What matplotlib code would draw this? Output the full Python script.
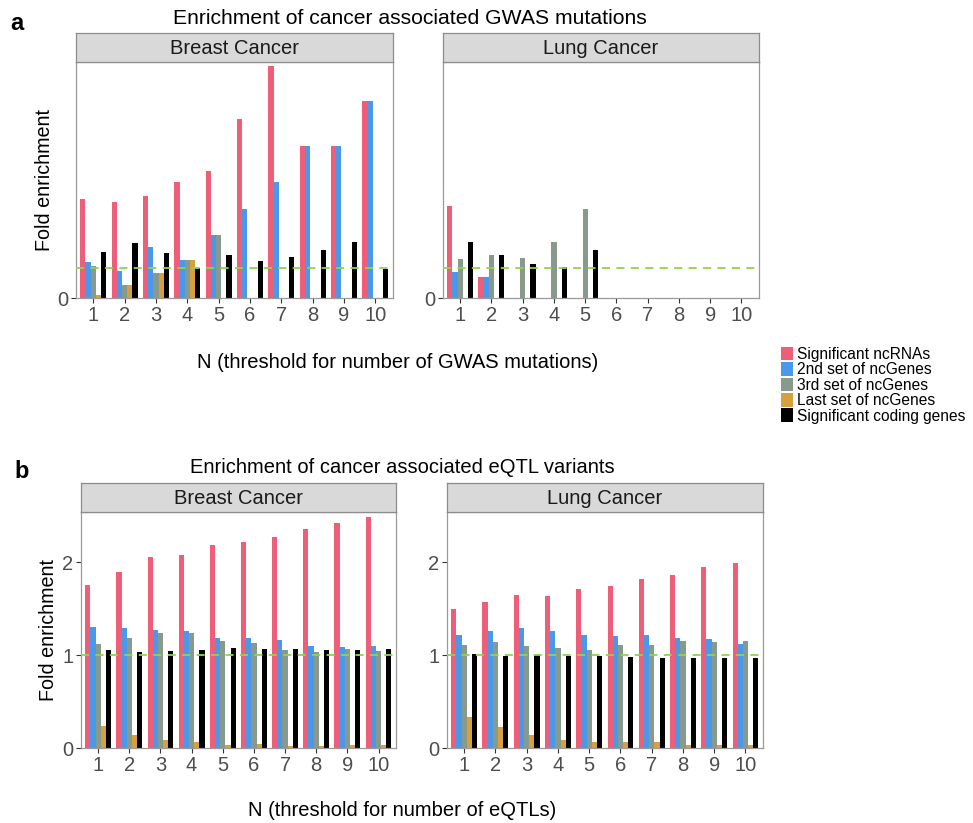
import numpy as np
import matplotlib
matplotlib.use('Agg')
import matplotlib.pyplot as plt
from matplotlib.patches import Patch

plt.rcParams['font.family'] = ['Liberation Sans', 'DejaVu Sans']

W, H = 973, 823

thresholds = np.arange(1, 11)
series = ['Significant ncRNAs', '2nd set of ncGenes', '3rd set of ncGenes',
          'Last set of ncGenes', 'Significant coding genes']
colors = ['#EF5E78', '#4A98EA', '#879A8B', '#D6A03E', '#000000']

# a: GWAS mutations
gwas_breast_sig = [3.30, 3.21, 3.41, 3.87, 4.23, 5.98, 7.74, 5.06, 5.06, 6.58]
gwas_breast_2nd = [1.20, 0.91, 1.70, 1.28, 2.11, 2.98, 3.87, 5.06, 5.06, 6.58]
gwas_breast_3rd = [1.08, 0.44, 0.83, 1.28, 2.11, 0, 0, 0, 0, 0]
gwas_breast_last = [0.09, 0.44, 0.83, 1.28, 0, 0, 0, 0, 0, 0]
gwas_breast_coding = [1.52, 1.82, 1.50, 1.00, 1.44, 1.24, 1.38, 1.59, 1.88, 0.98]

gwas_lung_sig = [3.06, 0.70, 0, 0, 0, 0, 0, 0, 0, 0]
gwas_lung_2nd = [0.87, 0.70, 0, 0, 0, 0, 0, 0, 0, 0]
gwas_lung_3rd = [1.30, 1.42, 1.33, 1.88, 2.98, 0, 0, 0, 0, 0]
gwas_lung_last = [0, 0, 0, 0, 0, 0, 0, 0, 0, 0]
gwas_lung_coding = [1.86, 1.43, 1.13, 1.03, 1.59, 0, 0, 0, 0, 0]

# b: eQTL variants
eqtl_breast_sig = [1.75, 1.89, 2.06, 2.08, 2.18, 2.22, 2.27, 2.36, 2.42, 2.49]
eqtl_breast_2nd = [1.30, 1.29, 1.27, 1.26, 1.18, 1.18, 1.16, 1.10, 1.09, 1.10]
eqtl_breast_3rd = [1.12, 1.18, 1.24, 1.24, 1.15, 1.13, 1.05, 1.03, 1.07, 1.04]
eqtl_breast_last = [0.24, 0.14, 0.09, 0.06, 0.03, 0.04, 0.02, 0.02, 0.03, 0.03]
eqtl_breast_coding = [1.06, 1.03, 1.04, 1.06, 1.08, 1.07, 1.07, 1.06, 1.05, 1.07]

eqtl_lung_sig = [1.50, 1.57, 1.65, 1.64, 1.71, 1.74, 1.82, 1.86, 1.95, 1.99]
eqtl_lung_2nd = [1.22, 1.26, 1.29, 1.26, 1.22, 1.21, 1.22, 1.18, 1.17, 1.12]
eqtl_lung_3rd = [1.11, 1.14, 1.10, 1.08, 1.06, 1.11, 1.11, 1.15, 1.14, 1.15]
eqtl_lung_last = [0.33, 0.23, 0.14, 0.09, 0.06, 0.06, 0.06, 0.03, 0.03, 0.03]
eqtl_lung_coding = [1.01, 0.99, 1.00, 0.99, 0.99, 0.98, 0.97, 0.97, 0.97, 0.97]

gwas_breast = [gwas_breast_sig, gwas_breast_2nd, gwas_breast_3rd, gwas_breast_last, gwas_breast_coding]
gwas_lung = [gwas_lung_sig, gwas_lung_2nd, gwas_lung_3rd, gwas_lung_last, gwas_lung_coding]
eqtl_breast = [eqtl_breast_sig, eqtl_breast_2nd, eqtl_breast_3rd, eqtl_breast_last, eqtl_breast_coding]
eqtl_lung = [eqtl_lung_sig, eqtl_lung_2nd, eqtl_lung_3rd, eqtl_lung_last, eqtl_lung_coding]


def px_axes(fig, x0, y0, x1, y1):
    # pixel box (top-left origin) -> figure axes
    return fig.add_axes([x0 / W, 1 - y1 / H, (x1 - x0) / W, (y1 - y0) / H])


def draw_panel(fig, box, strip_top, title, data, ymax, yticks):
    x0, y0, x1, y1 = box
    ax = px_axes(fig, x0, y0, x1, y1)
    width = 0.166
    for i, vals in enumerate(data):
        offs = (i - 2) * width
        ax.bar(thresholds + offs, vals, width=width, color=colors[i], edgecolor='none', zorder=2)
    ax.axhline(1, color='#8DD64A', lw=1.3, dashes=(4.5, 3.5), zorder=3)
    ax.set_xlim(0.45, 10.56)
    ax.set_ylim(0, ymax)
    ax.set_xticks(thresholds)
    ax.set_yticks(yticks)
    ax.tick_params(axis='both', colors='#333333', labelcolor='#4D4D4D', labelsize=14.5,
                   length=3.5, width=0.8, pad=2)
    for s in ax.spines.values():
        s.set_color('#9A9A9A')
        s.set_linewidth(0.9)
    # facet strip
    st = px_axes(fig, x0, strip_top, x1, y0)
    st.set_facecolor('#D9D9D9')
    st.set_xticks([])
    st.set_yticks([])
    for s in st.spines.values():
        s.set_color('#8C8C8C')
        s.set_linewidth(0.9)
    st.text(0.5, 0.45, title, ha='center', va='center', fontsize=14.5, color='#1A1A1A',
            transform=st.transAxes)
    return ax


fig = plt.figure(figsize=(W / 100, H / 100), dpi=100)

# panel a
draw_panel(fig, (76, 62, 393, 298), 33, 'Breast Cancer', gwas_breast, 7.87, [0])
draw_panel(fig, (443, 62, 759, 298), 33, 'Lung Cancer', gwas_lung, 7.87, [0])
fig.text(17 / W, 1 - 24 / H, 'a', fontsize=17, fontweight='bold', ha='center', va='center')
fig.text(410 / W, 1 - 19 / H, 'Enrichment of cancer associated GWAS mutations',
         fontsize=15.2, ha='center', va='center')
fig.text(45 / W, 1 - 180 / H, 'Fold enrichment', fontsize=14.2, rotation=90, ha='center', va='center')
fig.text(398 / W, 1 - 363 / H, 'N (threshold for number of GWAS mutations)',
         fontsize=14.5, ha='center', va='center')

# panel b
draw_panel(fig, (81, 512, 396, 748), 483, 'Breast Cancer', eqtl_breast, 2.54, [0, 1, 2])
draw_panel(fig, (447, 512, 763, 748), 483, 'Lung Cancer', eqtl_lung, 2.54, [0, 1, 2])
fig.text(22 / W, 1 - 472 / H, 'b', fontsize=17, fontweight='bold', ha='center', va='center')
fig.text(402 / W, 1 - 468 / H, 'Enrichment of cancer associated eQTL variants',
         fontsize=14.5, ha='center', va='center')
fig.text(49 / W, 1 - 630 / H, 'Fold enrichment', fontsize=14.2, rotation=90, ha='center', va='center')
fig.text(402 / W, 1 - 811 / H, 'N (threshold for number of eQTLs)',
         fontsize=14.5, ha='center', va='center')

handles = [Patch(facecolor=c, edgecolor='none', label=s) for c, s in zip(colors, series)]
fig.legend(handles=handles, loc='upper left', bbox_to_anchor=(781 / W, 1 - 347 / H),
           frameon=False, fontsize=11.2, handlelength=0.75, handleheight=0.95,
           handletextpad=0.3, labelspacing=0.02, borderpad=0, borderaxespad=0)

fig.savefig('out.png', dpi=100)
